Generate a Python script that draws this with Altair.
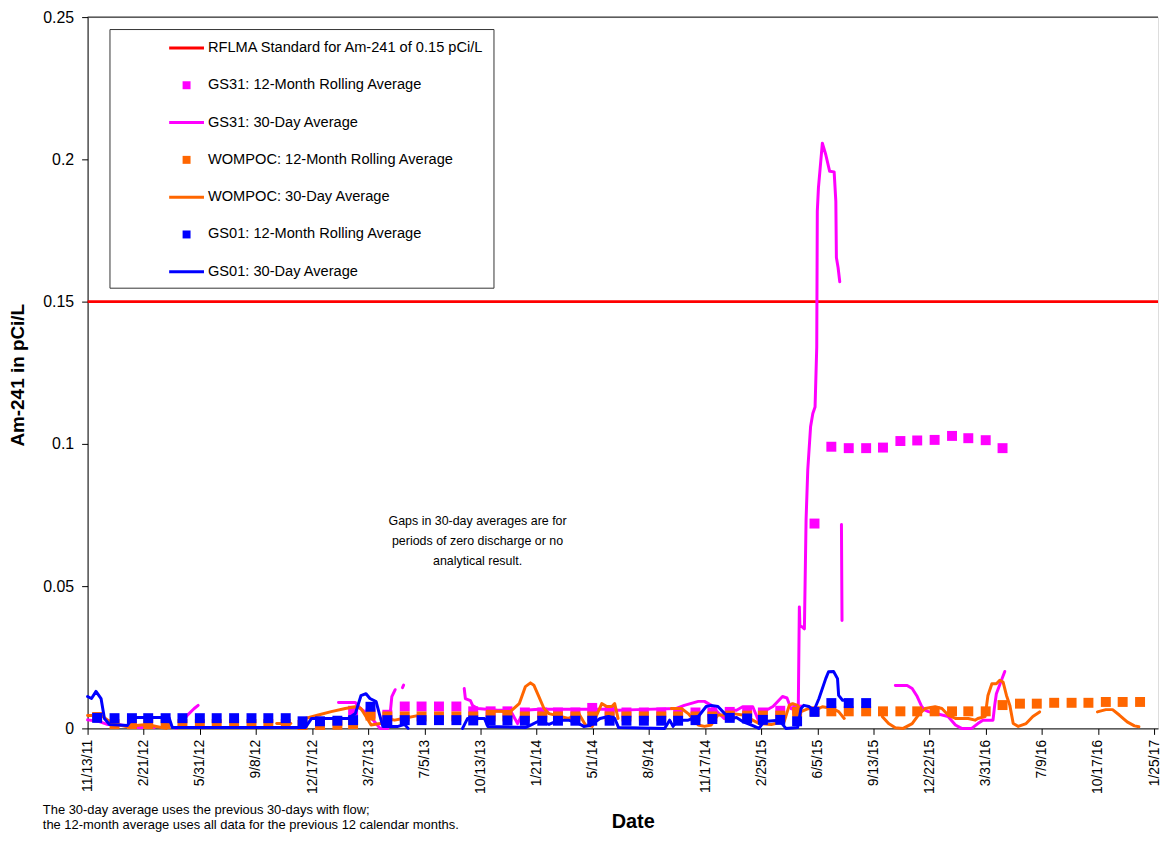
import altair as alt
import pandas as pd

# ---------------- series names & colours ----------------
SERIES = [
    "RFLMA Standard for Am-241 of 0.15 pCi/L",
    "GS31: 12-Month Rolling Average",
    "GS31: 30-Day Average",
    "WOMPOC: 12-Month Rolling Average",
    "WOMPOC: 30-Day Average",
    "GS01: 12-Month Rolling Average",
    "GS01: 30-Day Average",
]
COLORS = ["#FF0000", "#FF00FF", "#FF00FF", "#FF6600", "#FF6600", "#0000FF", "#0000FF"]
LINE_SHAPE = "M-1.75,-0.15H1.75V0.15H-1.75Z"
SQUARE_SHAPE = "M-0.4,-0.4H0.4V0.4H-0.4Z"
SHAPES = [LINE_SHAPE, SQUARE_SHAPE, LINE_SHAPE, SQUARE_SHAPE, LINE_SHAPE, SQUARE_SHAPE, LINE_SHAPE]

STANDARD = [0.15]

# ---------------- 12-month rolling averages (month-end values) ----------------
GS31_12M_START = "2013-02-28"
GS31_12M = [0.0062, 0.0052, 0.0048, 0.0077, 0.0077, 0.0077, 0.0077, 0.0060, 0.0060, 0.0060, 0.0056,
            0.0056, 0.0056, 0.0056, 0.0072, 0.0064, 0.0056, 0.0056, 0.0056, 0.0056, 0.0056, 0.0056, 0.0058,
            0.0058, 0.0056, 0.0062, 0.0066, 0.0720, 0.0990, 0.0985, 0.0985, 0.0987, 0.1010, 0.1012, 0.1014,
            0.1028, 0.1020, 0.1013, 0.0985]

WOMPOC_12M_START = "2011-11-30"
WOMPOC_12M = [0.0040, 0.0015,
              0.0015, 0.0015, 0.0015, 0.0015, 0.0015, 0.0015, 0.0015, 0.0015, 0.0015, 0.0015, 0.0012, 0.0012,
              0.0013, 0.0015, 0.0045, 0.0042, 0.0042, 0.0042, 0.0042, 0.0042, 0.0042, 0.0042, 0.0042, 0.0042,
              0.0042, 0.0042, 0.0042, 0.0042, 0.0042, 0.0042, 0.0042, 0.0042, 0.0042, 0.0042, 0.0042, 0.0045,
              0.0045, 0.0045, 0.0045, 0.0058, 0.0060, 0.0060, 0.0060, 0.0060, 0.0060, 0.0060, 0.0060, 0.0060,
              0.0060, 0.0060, 0.0060, 0.0082, 0.0087, 0.0087, 0.0090, 0.0090, 0.0090, 0.0093, 0.0093, 0.0093]

GS01_12M_START = "2011-11-30"
GS01_12M = [0.0037, 0.0036, 0.0036, 0.0036, 0.0036, 0.0036, 0.0036, 0.0036, 0.0036, 0.0036, 0.0036, 0.0036,
            0.0025, 0.0025,
            0.0027, 0.0029, 0.0076, 0.0029, 0.0029, 0.0029, 0.0029, 0.0029, 0.0028, 0.0028, 0.0028, 0.0027,
            0.0027, 0.0027, 0.0027, 0.0027, 0.0027, 0.0027, 0.0027, 0.0027, 0.0027, 0.0029, 0.0033, 0.0037,
            0.0035, 0.0030, 0.0030, 0.0025, 0.0058, 0.0089, 0.0089, 0.0089]

# ---------------- 30-day averages (segments separated by gaps) ----------------
GS31_30D = [
    [("2011-11-13", 0.0030), ("2011-12-04", 0.0024), ("2011-12-18", 0.0014), ("2012-01-05", 0.0014),
     ("2012-02-10", 0.0003), ("2012-03-11", 0.0003)],
    [("2012-04-19", 0.0000), ("2012-04-29", 0.0014), ("2012-05-08", 0.0045), ("2012-05-21", 0.0070),
     ("2012-05-28", 0.0081)],
    [("2013-02-02", 0.0091), ("2013-03-04", 0.0091), ("2013-03-13", 0.0070), ("2013-03-27", 0.0049),
     ("2013-04-10", 0.0017), ("2013-04-17", 0.0000), ("2013-05-01", 0.0000), ("2013-05-05", 0.0052),
     ("2013-05-08", 0.0112), ("2013-05-14", 0.0136)],
    [("2013-05-27", 0.0143), ("2013-05-29", 0.0152)],
    [("2013-09-14", 0.0140), ("2013-09-16", 0.0105), ("2013-09-25", 0.0098), ("2013-09-29", 0.0080),
     ("2013-10-08", 0.0070), ("2013-11-12", 0.0064), ("2013-12-05", 0.0064), ("2013-12-18", 0.0017),
     ("2013-12-30", 0.0064), ("2014-01-25", 0.0067), ("2014-05-23", 0.0067), ("2014-06-16", 0.0064),
     ("2014-07-18", 0.0066), ("2014-09-27", 0.0070), ("2014-10-11", 0.0081), ("2014-11-05", 0.0095),
     ("2014-11-16", 0.0095), ("2014-11-28", 0.0081), ("2014-12-10", 0.0056), ("2014-12-21", 0.0035),
     ("2015-01-03", 0.0064), ("2015-01-12", 0.0064), ("2015-01-23", 0.0076), ("2015-02-10", 0.0076),
     ("2015-02-21", 0.0024), ("2015-03-06", 0.0064), ("2015-03-18", 0.0077), ("2015-04-04", 0.0112),
     ("2015-04-12", 0.0107), ("2015-04-19", 0.0070), ("2015-04-28", 0.0064), ("2015-05-02", 0.0052),
     ("2015-05-04", 0.0427), ("2015-05-05", 0.0360), ("2015-05-09", 0.0357), ("2015-05-13", 0.0350),
     ("2015-05-16", 0.0734), ("2015-05-19", 0.0909), ("2015-05-24", 0.1060), ("2015-05-28", 0.1107),
     ("2015-06-01", 0.1130), ("2015-06-04", 0.1340), ("2015-06-05", 0.1818), ("2015-06-07", 0.1900),
     ("2015-06-14", 0.2057), ("2015-06-20", 0.2017), ("2015-06-27", 0.1958), ("2015-07-05", 0.1956),
     ("2015-07-08", 0.1853), ("2015-07-09", 0.1655), ("2015-07-12", 0.1620), ("2015-07-15", 0.1570)],
    [("2015-07-18", 0.0717), ("2015-07-19", 0.0379)],
    [("2015-10-22", 0.0151), ("2015-11-12", 0.0151), ("2015-11-21", 0.0140), ("2015-11-30", 0.0112),
     ("2015-12-08", 0.0077), ("2015-12-14", 0.0064), ("2015-12-20", 0.0059), ("2016-01-24", 0.0042),
     ("2016-02-06", 0.0012), ("2016-02-17", 0.0000), ("2016-03-06", 0.0000), ("2016-03-17", 0.0017),
     ("2016-03-26", 0.0029), ("2016-04-13", 0.0029), ("2016-04-16", 0.0081), ("2016-04-19", 0.0122),
     ("2016-04-28", 0.0169), ("2016-05-04", 0.0200)],
]

WOMPOC_30D = [
    [("2011-11-13", 0.0045), ("2011-12-08", 0.0045), ("2011-12-27", 0.0017), ("2012-01-21", 0.0007),
     ("2012-02-26", 0.0014), ("2012-04-01", 0.0000)],
    [("2012-10-15", 0.0017), ("2012-11-09", 0.0017)],
    [("2012-12-05", 0.0035), ("2012-12-28", 0.0047), ("2013-01-20", 0.0059), ("2013-02-14", 0.0070),
     ("2013-03-04", 0.0076), ("2013-03-14", 0.0070), ("2013-03-27", 0.0029), ("2013-04-01", 0.0012),
     ("2013-04-17", 0.0017), ("2013-04-28", 0.0035), ("2013-05-13", 0.0029), ("2013-05-28", 0.0035),
     ("2013-06-23", 0.0045)],
    [("2013-10-25", 0.0060), ("2013-12-05", 0.0059), ("2013-12-21", 0.0087), ("2014-01-01", 0.0147),
     ("2014-01-10", 0.0160), ("2014-01-16", 0.0152), ("2014-01-25", 0.0112), ("2014-02-03", 0.0070),
     ("2014-02-12", 0.0052), ("2014-03-19", 0.0035), ("2014-04-06", 0.0052), ("2014-04-18", 0.0012),
     ("2014-04-30", 0.0007), ("2014-05-08", 0.0047), ("2014-05-17", 0.0087), ("2014-05-26", 0.0077),
     ("2014-06-04", 0.0077), ("2014-06-09", 0.0087), ("2014-06-15", 0.0035)],
    [("2014-09-18", 0.0070), ("2014-10-06", 0.0070), ("2014-10-18", 0.0052), ("2014-11-05", 0.0012),
     ("2014-11-16", 0.0007), ("2014-11-28", 0.0012), ("2014-12-10", 0.0047), ("2014-12-28", 0.0047),
     ("2015-01-06", 0.0052), ("2015-01-23", 0.0047), ("2015-02-10", 0.0029), ("2015-02-21", 0.0017),
     ("2015-03-15", 0.0014), ("2015-04-07", 0.0024), ("2015-04-16", 0.0081), ("2015-04-22", 0.0087),
     ("2015-05-01", 0.0081), ("2015-05-07", 0.0059), ("2015-05-21", 0.0070), ("2015-06-02", 0.0064),
     ("2015-06-14", 0.0076), ("2015-07-02", 0.0070), ("2015-07-13", 0.0059), ("2015-07-23", 0.0035)],
    [("2015-09-29", 0.0041), ("2015-10-10", 0.0017), ("2015-10-22", 0.0002), ("2015-11-05", 0.0000),
     ("2015-11-21", 0.0017), ("2015-12-02", 0.0047), ("2015-12-14", 0.0070), ("2016-01-01", 0.0076),
     ("2016-01-13", 0.0070), ("2016-01-24", 0.0047), ("2016-02-06", 0.0035), ("2016-02-29", 0.0035),
     ("2016-03-12", 0.0029), ("2016-03-17", 0.0035), ("2016-03-30", 0.0042), ("2016-04-04", 0.0116),
     ("2016-04-11", 0.0157), ("2016-04-19", 0.0157), ("2016-04-25", 0.0169), ("2016-05-01", 0.0163),
     ("2016-05-07", 0.0116), ("2016-05-13", 0.0081), ("2016-05-19", 0.0017), ("2016-05-28", 0.0007),
     ("2016-06-11", 0.0017), ("2016-06-23", 0.0042), ("2016-07-05", 0.0058)],
    [("2016-10-16", 0.0058), ("2016-10-31", 0.0066), ("2016-11-12", 0.0066), ("2016-11-24", 0.0047),
     ("2016-12-08", 0.0023), ("2016-12-21", 0.0009), ("2016-12-29", 0.0006)],
]

GS01_30D = [
    [("2011-11-13", 0.0112), ("2011-11-20", 0.0105), ("2011-11-28", 0.0130), ("2011-12-07", 0.0105),
     ("2011-12-13", 0.0035), ("2011-12-22", 0.0014), ("2012-01-23", 0.0010), ("2012-02-01", 0.0038),
     ("2012-04-06", 0.0038), ("2012-04-12", 0.0003), ("2012-12-05", 0.0003), ("2012-12-16", 0.0035),
     ("2013-02-19", 0.0035), ("2013-03-04", 0.0052), ("2013-03-14", 0.0115), ("2013-03-23", 0.0122),
     ("2013-03-30", 0.0105), ("2013-04-10", 0.0094), ("2013-04-17", 0.0042), ("2013-04-22", 0.0007),
     ("2013-05-19", 0.0007), ("2013-05-31", 0.0014), ("2013-06-06", 0.0000)],
    [("2013-09-11", 0.0000), ("2013-09-20", 0.0035), ("2013-10-20", 0.0035), ("2013-10-26", 0.0007),
     ("2014-01-01", 0.0003), ("2014-01-13", 0.0014), ("2014-01-25", 0.0026), ("2014-02-12", 0.0014),
     ("2014-03-02", 0.0029), ("2014-03-19", 0.0029), ("2014-04-06", 0.0017), ("2014-04-15", 0.0007),
     ("2014-04-26", 0.0010), ("2014-05-14", 0.0035), ("2014-05-29", 0.0042), ("2014-06-09", 0.0035),
     ("2014-06-16", 0.0003), ("2014-09-06", 0.0000), ("2014-09-15", 0.0029), ("2014-09-21", 0.0007),
     ("2014-09-30", 0.0029), ("2014-10-18", 0.0029), ("2014-11-05", 0.0042), ("2014-11-19", 0.0077),
     ("2014-11-28", 0.0081), ("2014-12-10", 0.0077), ("2014-12-22", 0.0052), ("2015-01-03", 0.0035),
     ("2015-01-12", 0.0038), ("2015-01-23", 0.0024), ("2015-02-10", 0.0010), ("2015-02-21", 0.0000),
     ("2015-03-02", 0.0024), ("2015-03-29", 0.0029), ("2015-04-10", 0.0000), ("2015-05-01", 0.0003),
     ("2015-05-07", 0.0070), ("2015-05-12", 0.0081), ("2015-05-21", 0.0077), ("2015-05-30", 0.0063),
     ("2015-06-08", 0.0105), ("2015-06-20", 0.0175), ("2015-06-25", 0.0199), ("2015-07-04", 0.0200),
     ("2015-07-11", 0.0175), ("2015-07-13", 0.0116), ("2015-07-20", 0.0099), ("2015-08-03", 0.0099)],
]

# ---------------- axis / text ----------------
X_START = "2011-11-13"
X_END = "2017-02-01"
TICK_STEP_DAYS = 100
TICK_COUNT = 20
Y_TICKS = [0, 0.05, 0.1, 0.15, 0.2, 0.25]
NOTE_TEXT = "Gaps in 30-day averages are for\nperiods of zero discharge or no\nanalytical result."
FOOTNOTE = ("The 30-day average uses the previous 30-days with flow;\n"
            "the 12-month average uses all data for the previous 12 calendar months.")


def ms(d):
    return int(pd.Timestamp(d, tz="UTC").value // 10**6)


def monthly(name, start, vals):
    dates = pd.date_range(start, periods=len(vals), freq=pd.offsets.MonthEnd())
    return pd.DataFrame({"date": dates.strftime("%Y-%m-%d"), "value": vals, "series": name})


def segments(name, segs):
    rows = []
    for k, seg in enumerate(segs):
        for d, v in seg:
            rows.append({"date": d, "value": v, "series": name, "seg": f"{name}-{k}"})
    return pd.DataFrame(rows)


tick_values = [ms(d) for d in pd.date_range(X_START, periods=TICK_COUNT, freq=f"{TICK_STEP_DAYS}D")]

W, H = 1076, 715
FONT = "Liberation Sans"

color_scale = alt.Scale(domain=SERIES, range=COLORS)
shape_scale = alt.Scale(domain=SERIES, range=SHAPES)

x_enc = alt.X(
    "date:T",
    scale=alt.Scale(type="utc", domain=[ms(X_START), ms(X_END)], nice=False),
    axis=alt.Axis(
        values=tick_values, format="%-m/%-d/%y", labelAngle=270, labelAlign="right",
        labelBaseline="middle", labelPadding=5, labelFont=FONT, labelFontSize=14,
        labelColor="black", labelOverlap=False, labelFlush=False, tickSize=6,
        tickColor="black", domainColor="black", grid=False, title="Date",
        titleFont=FONT, titleFontSize=20, titleFontWeight="bold", titleColor="black",
        titleX=548, titleY=94, titleBaseline="middle", titleAlign="center",
    ),
)
y_enc = alt.Y(
    "value:Q",
    scale=alt.Scale(domain=[0, 0.25], nice=False),
    axis=alt.Axis(
        values=Y_TICKS, format="~g", labelFont=FONT, labelFontSize=16, labelColor="black",
        labelPadding=8, tickSize=6, tickColor="black", domainColor="black", grid=False,
        title="Am-241 in pCi/L", titleFont=FONT, titleFontSize=19, titleFontWeight="bold",
        titleColor="black", titleAngle=270, titleX=-70, titleY=H / 2 + 2,
        titleAlign="center", titleBaseline="middle",
    ),
)

legend = alt.Legend(
    orient="none", legendX=22, legendY=12, title=None, direction="vertical",
    padding=9, symbolSize=400, symbolOffset=58.5, labelOffset=11.5, rowPadding=20.5,
    strokeColor="#333333", fillColor="white", labelFont=FONT, labelFontSize=14.7,
    labelColor="black", labelLimit=600, symbolStrokeWidth=0, symbolOpacity=1,
)

std_df = pd.DataFrame({"value": STANDARD, "series": [SERIES[0]]})
rule = alt.Chart(std_df).mark_rule(strokeWidth=3).encode(
    y=y_enc, color=alt.Color("series:N", scale=color_scale, legend=None)
)


def squares(df):
    return alt.Chart(df).mark_point(filled=True, size=625, opacity=1, strokeWidth=0).encode(
        x=x_enc, y=y_enc,
        color=alt.Color("series:N", scale=color_scale, legend=None),
        shape=alt.Shape("series:N", scale=shape_scale, legend=None),
    )


def lines(df):
    return alt.Chart(df).mark_line(strokeWidth=3, strokeJoin="round", strokeCap="round").encode(
        x=x_enc, y=y_enc,
        color=alt.Color("series:N", scale=color_scale, legend=None),
        detail="seg:N",
    )


# legend-only layer: one entry per series, no position values -> nothing drawn in the plot
legend_df = pd.DataFrame({"series": SERIES, "date": [None] * len(SERIES), "value": [None] * len(SERIES)})
legend_layer = alt.Chart(legend_df).mark_point(filled=True, opacity=1, strokeWidth=0).encode(
    x=x_enc, y=y_enc,
    color=alt.Color("series:N", scale=color_scale, legend=legend),
    shape=alt.Shape("series:N", scale=shape_scale, legend=legend),
)

layers = [
    rule,
    squares(monthly(SERIES[1], GS31_12M_START, GS31_12M)),
    lines(segments(SERIES[2], GS31_30D)),
    squares(monthly(SERIES[3], WOMPOC_12M_START, WOMPOC_12M)),
    lines(segments(SERIES[4], WOMPOC_30D)),
    squares(monthly(SERIES[5], GS01_12M_START, GS01_12M)),
    lines(segments(SERIES[6], GS01_30D)),
    legend_layer,
]

note = alt.Chart(pd.DataFrame({"t": [NOTE_TEXT]})).mark_text(
    lineBreak="\n", lineHeight=20, align="center", baseline="middle", font=FONT,
    fontSize=12.5, color="black",
).encode(x=alt.value(392), y=alt.value(507), text="t:N")

foot = alt.Chart(pd.DataFrame({"t": [FOOTNOTE]})).mark_text(
    lineBreak="\n", lineHeight=15, align="left", baseline="middle", font=FONT,
    fontSize=13, color="black",
).encode(x=alt.value(-45), y=alt.value(797), text="t:N")

top = alt.Chart(pd.DataFrame({"k": [0]})).mark_rule(color="black", strokeWidth=1).encode(
    x=alt.value(0), x2=alt.value(W), y=alt.value(0)
)

chart = alt.layer(*layers, note, foot, top).resolve_scale(
    color="independent", shape="independent"
).properties(
    width=W, height=H, autosize="none",
    padding={"left": 80, "top": 7, "right": 6, "bottom": 104},
).configure_view(stroke=None).configure(background="white")

chart.save("out.html", embed_options={"renderer": "svg", "actions": False})
